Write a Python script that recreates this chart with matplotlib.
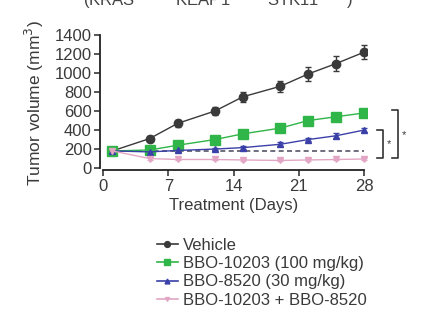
import matplotlib.pyplot as plt
from matplotlib.lines import Line2D

plt.rcParams['font.family'] = ['Liberation Sans', 'DejaVu Sans']

days = [1, 5, 8, 12, 15, 19, 22, 25, 28]
vehicle = [180, 310, 470, 600, 750, 860, 990, 1100, 1220]
vehicle_err = [20, 30, 35, 45, 55, 60, 70, 75, 75]
bbo10203 = [180, 190, 240, 300, 360, 420, 500, 540, 580]
bbo10203_err = [15, 20, 20, 25, 25, 30, 30, 35, 40]
bbo8520 = [180, 170, 185, 200, 215, 250, 300, 340, 400]
bbo8520_err = [15, 15, 15, 15, 15, 20, 20, 25, 25]
combo = [180, 100, 90, 90, 85, 80, 85, 90, 95]
combo_err = [15, 12, 10, 10, 10, 10, 10, 10, 12]
baseline = 180

labels = ['Vehicle', 'BBO-10203 (100 mg/kg)', 'BBO-8520 (30 mg/kg)',
          'BBO-10203 + BBO-8520']

txt = '#3a3a3a'
fig = plt.figure(figsize=(4.36, 3.24), dpi=100)
ax = fig.add_axes([0.2298, 0.474, 0.612, 0.418])

ax.plot([days[0], days[-1]], [baseline, baseline], ls=(0, (3, 2)),
        color='#555566', lw=1.2, zorder=1)

series = [
    (vehicle, vehicle_err, '#3a3a3a', 'o', 6),
    (bbo10203, bbo10203_err, '#2fb548', 's', 6.5),
    (bbo8520, bbo8520_err, '#3a40a8', '^', 5),
    (combo, combo_err, '#e2a6c4', 'v', 4),
]
handles = []
for (vals, err, c, m, ms), lab in zip(series, labels):
    ax.errorbar(days, vals, yerr=err, color=c, marker=m, ms=ms, lw=1.0,
                capsize=2.5, elinewidth=1.0, zorder=3)
    handles.append(Line2D([], [], color=c, marker=m, ms=ms * 0.7, lw=1.2))

ax.set_xlim(-0.3, 28.3)
ax.set_ylim(-25, 1400)
ax.set_xticks([0, 7, 14, 21, 28])
ax.set_yticks(range(0, 1401, 200))
ax.spines[['top', 'right']].set_visible(False)
ax.spines['left'].set_bounds(0, 1400)
ax.spines['bottom'].set_bounds(0, 28)
for s in ['left', 'bottom']:
    ax.spines[s].set_linewidth(1.3)
    ax.spines[s].set_color('#222222')
ax.tick_params(labelsize=12, width=1.2, length=4.5, pad=1.5, colors=txt)
ax.set_xlabel('Treatment (Days)', fontsize=12, labelpad=3, color=txt)
ax.set_ylabel('Tumor volume (mm$^3$)', fontsize=12.5, labelpad=6, color=txt)

# significance brackets
ax.plot([31.0, 31.6, 31.6, 31.0], [610, 610, 105, 105], color='#333333',
        lw=1.2, clip_on=False)
ax.text(32.0, 350, '*', fontsize=8, va='center', color=txt, clip_on=False)
ax.plot([29.4, 30.0, 30.0, 29.4], [400, 400, 105, 105], color='#333333',
        lw=1.2, clip_on=False)
ax.text(30.4, 250, '*', fontsize=8, va='center', color=txt, clip_on=False)

fig.text(0.5, 0.982, '(KRAS$^{G12C}$  KEAP1$^{-/-}$  STK11$^{-/-}$)',
         ha='center', va='baseline', fontsize=12, color='#444444')

fig.legend(handles, labels, loc='upper left', bbox_to_anchor=(0.34, 0.292),
           frameon=False, fontsize=12, handlelength=1.3, handletextpad=0.3,
           labelspacing=0.2, borderpad=0, labelcolor=txt)

fig.savefig('out.png', dpi=100)
